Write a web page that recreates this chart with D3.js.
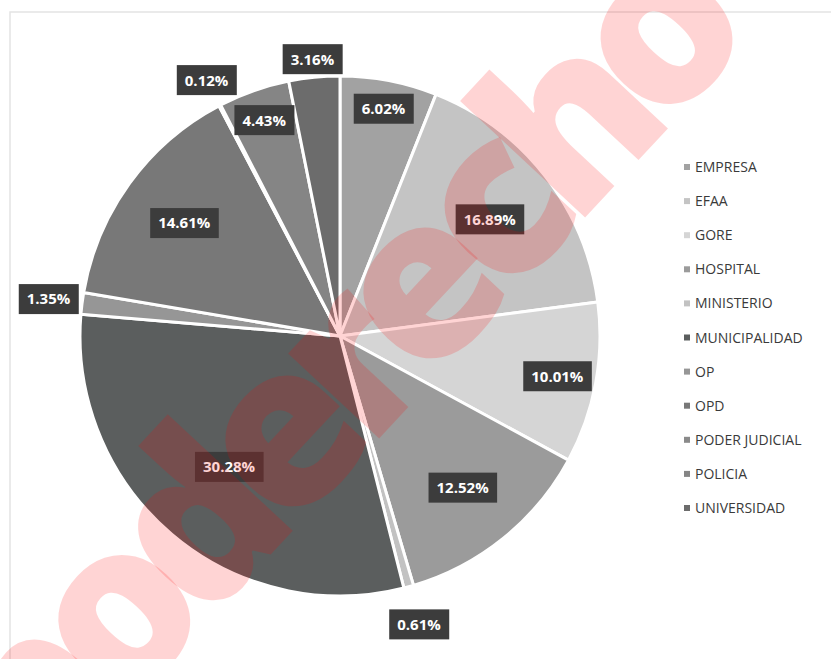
<!DOCTYPE html>
<html lang="es">
<head>
<meta charset="UTF-8">
<title>Distribución por institución</title>
<script src="https://cdn.jsdelivr.net/npm/d3@7"></script>
<style>
    body { margin: 0; background: #fff; }
    svg text { font-family: "Open Sans", sans-serif; }
</style>
</head>
<body>
<svg id="chart" width="831" height="659"></svg>
<script>
    // valores (porcentaje por institucion)
    const categories = ['EMPRESA', 'EFAA', 'GORE', 'HOSPITAL', 'MINISTERIO', 'MUNICIPALIDAD',
        'OP', 'OPD', 'PODER JUDICIAL', 'POLICIA', 'UNIVERSIDAD'];
    const percents = [6.02, 16.89, 10.01, 12.52, 0.61, 30.28, 1.35, 14.61, 0.12, 4.43, 3.16];

    const sliceColors = ['#a2a2a2', '#c4c4c4', '#d5d5d5', '#9b9b9b', '#c2c2c2', '#5b5e5e',
        '#969696', '#787878', '#8a8a8a', '#858585', '#6c6c6c'];
    // distancia de la etiqueta al centro, como fraccion del radio
    const labelRadius = [0.89, 0.73, 0.85, 0.75, 1.15, 0.66, 1.13, 0.74, 1.11, 0.88, 1.07];

    const svg = d3.select('#chart');
    const cx = 340, cy = 336, radius = 260;

    svg.append('rect')
        .attr('x', 10).attr('y', 12)
        .attr('width', 900).attr('height', 700)
        .attr('fill', 'none')
        .attr('stroke', '#e4e4e4')
        .attr('stroke-width', 1.5);

    const data = categories.map((c, i) => ({ name: c, value: percents[i], i: i }));

    const pie = d3.pie().sort(null).value(d => d.value);
    const arcs = pie(data);
    const arc = d3.arc().innerRadius(0).outerRadius(radius);

    const g = svg.append('g').attr('transform', `translate(${cx},${cy})`);

    g.selectAll('path.slice')
        .data(arcs)
        .enter().append('path')
        .attr('class', 'slice')
        .attr('d', arc)
        .attr('fill', d => sliceColors[d.data.i])
        .attr('stroke', '#fff')
        .attr('stroke-width', 3)
        .attr('stroke-linejoin', 'round');

    const fmt = d3.format('.2f');
    const labels = g.selectAll('g.lbl')
        .data(arcs)
        .enter().append('g')
        .attr('class', 'lbl')
        .attr('transform', d => {
            const r = radius * labelRadius[d.data.i];
            const [x, y] = d3.arc().innerRadius(r).outerRadius(r).centroid(d);
            return `translate(${x},${y})`;
        });

    labels.append('text')
        .attr('text-anchor', 'middle')
        .attr('dy', '0.36em')
        .attr('fill', '#fff')
        .attr('font-size', 15)
        .attr('font-weight', 700)
        .text(d => fmt(d.data.value) + '%');

    labels.each(function () {
        const t = d3.select(this).select('text');
        const b = t.node().getBBox();
        d3.select(this).insert('rect', 'text')
            .attr('x', b.x - 8)
            .attr('y', -15)
            .attr('width', b.width + 16)
            .attr('height', 30)
            .attr('fill', '#3c3c3c');
    });

    // leyenda
    const legend = svg.append('g').attr('transform', 'translate(687,167)');
    const ly = d3.scalePoint().domain(categories).range([0, 341]);

    const items = legend.selectAll('g')
        .data(data)
        .enter().append('g')
        .attr('transform', d => `translate(0,${ly(d.name)})`);

    items.append('rect')
        .attr('x', -3).attr('y', -3)
        .attr('width', 6).attr('height', 6)
        .attr('fill', d => sliceColors[d.i]);

    items.append('text')
        .attr('x', 8)
        .attr('dy', '0.36em')
        .attr('font-size', 14)
        .attr('fill', '#3a3a3a')
        .text(d => d.name);

    // marca de agua
    svg.append('text')
        .attr('transform', 'translate(399,417) rotate(-47)')
        .attr('text-anchor', 'middle')
        .attr('font-family', 'Lato, sans-serif')
        .attr('font-weight', 900)
        .attr('font-size', 225)
        .attr('textLength', 1062)
        .attr('lengthAdjust', 'spacing')
        .attr('fill', '#ff0000')
        .attr('fill-opacity', 0.17)
        .text('poderecho');
</script>
</body>
</html>
